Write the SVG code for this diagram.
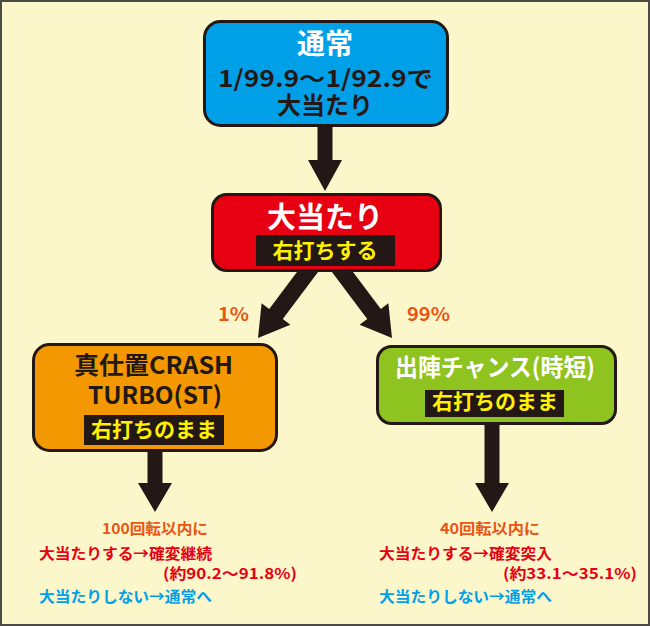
<svg xmlns="http://www.w3.org/2000/svg" width="650" height="626" viewBox="0 0 650 626">
<defs>
<style>
text{font-family:"Noto Sans CJK JP","Noto Sans",sans-serif;font-weight:700}
.box{stroke:#231815;stroke-width:3}
.bar{fill:#231815}
.arrow{fill:#231815}
.w{fill:#ffffff}
.k{fill:#231815}
.y{fill:#fff100}
.o{fill:#ea5514}
.r{fill:#e60012}
.b{fill:#00a0e9}
.c{text-anchor:middle}
</style>
</defs>
<rect x="1" y="1" width="648" height="624" fill="#fcf7cb" stroke="#4d4944" stroke-width="2"/>
<g id="connectors">
<polygon class="arrow" transform="translate(325,127) rotate(90)" points="0,-7.5 33,-7.5 33,-17 64,0 33,17 33,7.5 0,7.5"/>
<polygon class="arrow" transform="translate(312,266) rotate(126.87)" points="0,-8.5 60,-8.5 60,-18 90,0 60,18 60,8.5 0,8.5"/>
<polygon class="arrow" transform="translate(338,266) rotate(53.13)" points="0,-8.5 60,-8.5 60,-18 90,0 60,18 60,8.5 0,8.5"/>
<polygon class="arrow" transform="translate(155,450) rotate(90)" points="0,-7.5 33,-7.5 33,-17 62,0 33,17 33,7.5 0,7.5"/>
<polygon class="arrow" transform="translate(492,423) rotate(90)" points="0,-7.5 60,-7.5 60,-17 89,0 60,17 60,7.5 0,7.5"/>
<text class="o c" x="233.5" y="321" font-size="19" textLength="31" lengthAdjust="spacingAndGlyphs">1%</text>
<text class="o c" x="428.5" y="321" font-size="19" textLength="43" lengthAdjust="spacingAndGlyphs">99%</text>
</g>
<g id="normal">
<rect class="box" x="204.5" y="21.5" width="243" height="104" rx="16" fill="#00a0e9"/>
<text class="w c" x="325" y="54" font-size="28">通常</text>
<text class="k c" x="325.5" y="87" font-size="23" textLength="215" lengthAdjust="spacingAndGlyphs">1/99.9〜1/92.9で</text>
<text class="k c" x="325" y="114" font-size="24">大当たり</text>
</g>
<g id="bonus">
<rect class="box" x="212.5" y="194.5" width="228" height="76" rx="14" fill="#e60012"/>
<text class="w c" x="325" y="228" font-size="29">大当たり</text>
<rect class="bar" x="256" y="235" width="139" height="31"/>
<text class="y c" x="325" y="258" font-size="21">右打ちする</text>
</g>
<g id="crash-turbo">
<rect class="box" x="33.5" y="344.5" width="243" height="106" rx="16" fill="#f39800"/>
<text class="k c" x="153.5" y="374" font-size="24" textLength="159" lengthAdjust="spacingAndGlyphs">真仕置CRASH</text>
<text class="k c" x="155" y="404" font-size="24" textLength="134" lengthAdjust="spacingAndGlyphs">TURBO(ST)</text>
<rect class="bar" x="84" y="415" width="140" height="30"/>
<text class="y c" x="154" y="437" font-size="21">右打ちのまま</text>
</g>
<g id="shutsujin-chance">
<rect class="box" x="377.5" y="346.5" width="238" height="77" rx="14" fill="#8fc31f"/>
<text class="w c" x="495" y="376" font-size="24" textLength="200" lengthAdjust="spacingAndGlyphs">出陣チャンス(時短)</text>
<rect class="bar" x="425" y="390" width="139" height="27"/>
<text class="y c" x="495" y="409" font-size="21">右打ちのまま</text>
</g>
<g id="left-result">
<text class="o c" x="155" y="534" font-size="15" textLength="106" lengthAdjust="spacingAndGlyphs">100回転以内に</text>
<text class="r" x="39" y="559" font-size="15" textLength="173" lengthAdjust="spacingAndGlyphs">大当たりする→確変継続</text>
<text class="r" x="163" y="579" font-size="15" textLength="134" lengthAdjust="spacingAndGlyphs">(約90.2〜91.8%)</text>
<text class="b" x="39" y="602" font-size="15" textLength="173" lengthAdjust="spacingAndGlyphs">大当たりしない→通常へ</text>
</g>
<g id="right-result">
<text class="o c" x="490" y="534" font-size="15" textLength="100" lengthAdjust="spacingAndGlyphs">40回転以内に</text>
<text class="r" x="379" y="559" font-size="15" textLength="173" lengthAdjust="spacingAndGlyphs">大当たりする→確変突入</text>
<text class="r" x="503" y="579" font-size="15" textLength="134" lengthAdjust="spacingAndGlyphs">(約33.1〜35.1%)</text>
<text class="b" x="379" y="602" font-size="15" textLength="173" lengthAdjust="spacingAndGlyphs">大当たりしない→通常へ</text>
</g>
</svg>
